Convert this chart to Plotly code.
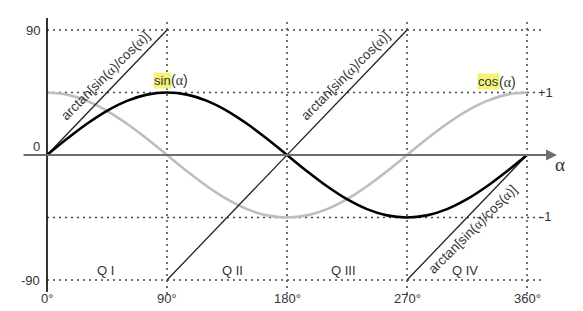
import plotly.graph_objects as go

# ---- data ----
angles = [0, 15, 30, 45, 60, 75, 90, 105, 120, 135, 150, 165, 180,
          195, 210, 225, 240, 255, 270, 285, 300, 315, 330, 345, 360]
sin_vals = [0, 0.259, 0.5, 0.707, 0.866, 0.966, 1, 0.966, 0.866, 0.707, 0.5, 0.259, 0,
            -0.259, -0.5, -0.707, -0.866, -0.966, -1, -0.966, -0.866, -0.707, -0.5, -0.259, 0]
cos_vals = [1, 0.966, 0.866, 0.707, 0.5, 0.259, 0, -0.259, -0.5, -0.707, -0.866, -0.966, -1,
            -0.966, -0.866, -0.707, -0.5, -0.259, 0, 0.259, 0.5, 0.707, 0.866, 0.966, 1]
unit = 45  # the ±1 gridlines sit at ±45 on the degree scale

arctan_segments = [([0, 90], [0, 90]), ([90, 270], [-90, 90]), ([270, 360], [-90, 0])]

x_ticks = [0, 90, 180, 270, 360]
x_tick_labels = ["0°", "90°", "180°", "270°", "360°"]
y_ticks = [90, 0, -90]
y_tick_labels = ["90", "0", "-90"]
quadrants = ["Q I", "Q II", "Q III", "Q IV"]
quad_x = [43.5, 139, 222, 313.5]

TXT = "#333333"
GRID = "#444444"
HL = "#f3f37a"
FONT = "Liberation Sans"
A = "<span style='font-family:Liberation Serif'>α</span>"

fig = go.Figure()

# dotted grid
for v in [90, unit, -unit, -90]:
    fig.add_shape(type="line", x0=0, x1=373 if v != unit else 366, y0=v, y1=v,
                  line=dict(color=GRID, width=1.5, dash="2px,4px"), layer="below")
for v in [90, 180, 270, 360]:
    fig.add_shape(type="line", x0=v, x1=v, y0=95.8, y1=-100.8,
                  line=dict(color=GRID, width=1.5, dash="2px,4px"), layer="below")

# curves
fig.add_trace(go.Scatter(x=angles, y=[unit * c for c in cos_vals], mode="lines",
                         line=dict(color="#bdbdbd", width=2.6, shape="spline"), hoverinfo="skip"))
for xs, ys in arctan_segments:
    fig.add_trace(go.Scatter(x=xs, y=ys, mode="lines",
                             line=dict(color="#222222", width=1.3), hoverinfo="skip"))
fig.add_trace(go.Scatter(x=angles, y=[unit * s for s in sin_vals], mode="lines",
                         line=dict(color="#000000", width=2.6, shape="spline"), hoverinfo="skip"))

# axes
fig.add_shape(type="line", x0=0, x1=0, y0=98.6, y1=-98.6, line=dict(color="#000", width=1.6))
fig.add_annotation(x=382.5, y=0, ax=-18.75, ay=0, axref="x", ayref="y", xref="x", yref="y",
                   showarrow=True, arrowhead=2, arrowsize=1.1, arrowwidth=2, arrowcolor="#6e6e6e", text="")
fig.add_annotation(x=385, y=-7, text=A, showarrow=False, font=dict(size=19, color=TXT),
                   xanchor="center", yanchor="middle")

# tick labels
for v, t in zip(y_ticks, y_tick_labels):
    fig.add_annotation(x=-3.5, y=v if v != 0 else 6, text=t, showarrow=False,
                       font=dict(size=13, color=TXT, family=FONT),
                       xanchor="right", yanchor="middle")
for v, t in zip(x_ticks, x_tick_labels):
    fig.add_annotation(x=v, y=-103.5, text=t, showarrow=False,
                       font=dict(size=13, color=TXT, family=FONT),
                       xanchor="center", yanchor="middle")
fig.add_annotation(x=367, y=unit, text="+1", showarrow=False, xanchor="left", yanchor="middle",
                   font=dict(size=13, color=TXT, family=FONT))
fig.add_annotation(x=368, y=-unit + 1, text="-1", showarrow=False, xanchor="left", yanchor="middle",
                   font=dict(size=13, color=TXT, family=FONT))
for q, qx in zip(quadrants, quad_x):
    fig.add_annotation(x=qx, y=-82.8, text=q, showarrow=False, xanchor="center", yanchor="middle",
                       font=dict(size=13, color=TXT, family=FONT))

# function labels
def hl_label(xr, y, word):
    fig.add_annotation(x=xr, y=y, text=word, showarrow=False, xanchor="right", yanchor="middle",
                       bgcolor=HL, borderpad=0, font=dict(size=13, color=TXT, family=FONT))
    fig.add_annotation(x=xr - 1.5, y=y, text="(" + A + ")", showarrow=False, xanchor="left",
                       yanchor="middle", borderpad=0, font=dict(size=14, color=TXT, family=FONT))

hl_label(93.75, 54, "sin")
hl_label(339.75, 52.6, "cos")

for cx, cy in [(44, 57), (224, 57), (319, -53.5)]:
    fig.add_annotation(x=cx, y=cy, text="arctan[sin(" + A + ")/cos(" + A + ")]", showarrow=False,
                       textangle=-45, xanchor="center", yanchor="middle",
                       font=dict(size=13.5, color=TXT, family=FONT))

fig.update_xaxes(range=[-35.25, 402], visible=False, fixedrange=True)
fig.update_yaxes(range=[-112.3, 111.6], visible=False, fixedrange=True)
fig.update_layout(width=583, height=311, margin=dict(l=0, r=0, t=0, b=0),
                  paper_bgcolor="white", plot_bgcolor="white", showlegend=False)

fig.write_html("out.html")
